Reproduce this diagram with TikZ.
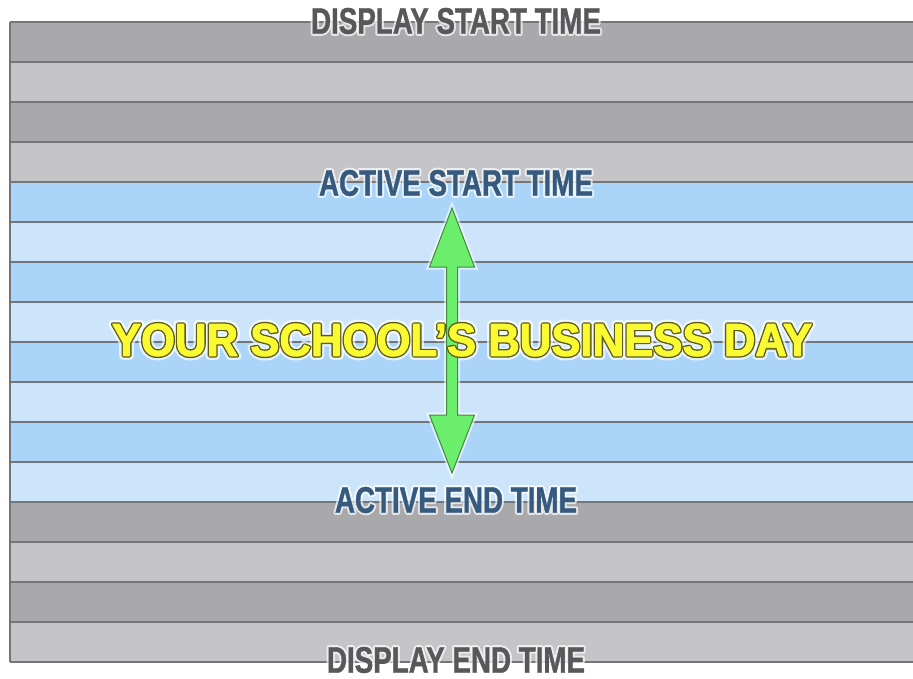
\documentclass[tikz,border=0pt]{standalone}
\usepackage{fontspec}
\newfontface\timefont{Liberation Sans Bold}[FakeStretch=0.75,FakeBold=1]
\newfontface\timeglowfont{Liberation Sans Bold}[FakeStretch=0.75,FakeBold=12]
\newfontface\dayfont{Liberation Sans Bold}[FakeStretch=0.95,FakeBold=2]
\newfontface\dayrimfont{Liberation Sans Bold}[FakeStretch=0.95,FakeBold=8]
\newfontface\dayglowfont{Liberation Sans Bold}[FakeStretch=0.95,FakeBold=18]
\definecolor{gdark}{HTML}{A9A8AB}
\definecolor{glight}{HTML}{C5C4C7}
\definecolor{bdark}{HTML}{AAD5F8}
\definecolor{blight}{HTML}{CDE5FB}
\definecolor{ruleline}{HTML}{727579}
\definecolor{labelgray}{HTML}{58585B}
\definecolor{labelblue}{HTML}{355A7E}
\definecolor{dayyellow}{HTML}{FAFA32}
\definecolor{dayrim}{HTML}{5E5C14}
\definecolor{arrowgreen}{HTML}{6BEE6B}
\definecolor{arrowrim}{HTML}{3C8C3C}

\begin{document}
\begin{tikzpicture}[
    x=1pt, y=-1pt,
    rule/.style={draw=ruleline, line width=1.6pt},
    timeglow/.style={font=\fontsize{37}{38}\timeglowfont, text=white, opacity=.7,
      line join=round, inner sep=0pt},
    timelbl/.style={font=\fontsize{37}{38}\timefont, line join=round, inner sep=0pt},
    dayglow/.style={font=\fontsize{46}{46}\dayglowfont, text=white, opacity=.7,
      line join=round, inner sep=0pt},
    dayline/.style={font=\fontsize{46}{46}\dayrimfont, text=dayrim, line join=round, inner sep=0pt},
    daylbl/.style={font=\fontsize{46}{46}\dayfont, text=dayyellow, line join=round, inner sep=0pt},
    dayarrow/.style={fill=arrowgreen, draw=arrowrim, line width=1pt, line join=miter,
      preaction={draw=white, opacity=.6, line width=5pt}}
]
  \useasboundingbox (0,0) rectangle (913,679);

  % ===== stripes (one per slot) =====
  \foreach \i/\c in {0/gdark,1/glight,2/gdark,3/glight,
                     4/bdark,5/blight,6/bdark,7/blight,8/bdark,9/blight,10/bdark,11/blight,
                     12/gdark,13/glight,14/gdark,15/glight} {
    \fill[\c] (10,22+40*\i) rectangle (913,62+40*\i);
  }
  \foreach \i in {0,...,16} {
    \draw[rule] (10,22+40*\i) -- (913,22+40*\i);
  }
  \draw[rule] (10,22) -- (10,662);

  % ===== time labels =====
  \foreach \nm/\yy/\txt/\col in {dstart/21/DISPLAY START TIME/labelgray,
                                 astart/183/ACTIVE START TIME/labelblue,
                                 aend/500/ACTIVE END TIME/labelblue,
                                 dend/660/DISPLAY END TIME/labelgray} {
    \node[timeglow] (\nm glow) at (456,\yy) {\txt};
    \node[timelbl, text=\col] (\nm) at (456,\yy) {\txt};
  }

  % ===== business day =====
  \node[dayglow] (dayglow) at (462,340) {YOUR SCHOOL’S BUSINESS DAY};
  \coordinate (uptip) at (452,208);
  \coordinate (downtip) at (452,473);
  \draw[dayarrow] (uptip) -- ++(22.5,59) -- ++(-17,0) -- ++(0,148) -- ++(17,0)
    -- (downtip) -- ++(-22.5,-58) -- ++(17,0) -- ++(0,-148) -- ++(-17,0) -- cycle;
  \node[dayline] (dayrim) at (462,340) {YOUR SCHOOL’S BUSINESS DAY};
  \node[daylbl] (day) at (462,340) {YOUR SCHOOL’S BUSINESS DAY};
\end{tikzpicture}
\end{document}
